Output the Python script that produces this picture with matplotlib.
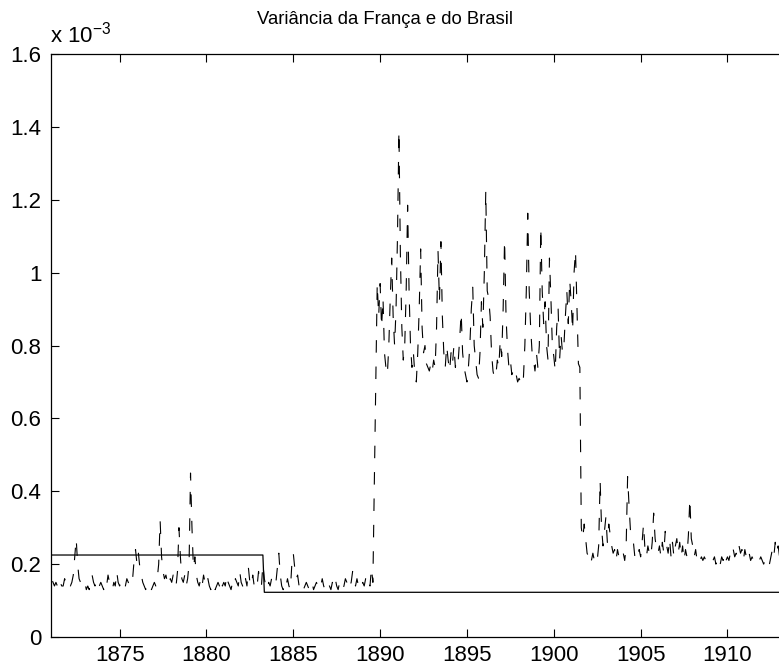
import numpy as np
import matplotlib
matplotlib.use("Agg")
import matplotlib.pyplot as plt

plt.rcParams['font.family'] = ['Liberation Sans', 'DejaVu Sans']
plt.rcParams['mathtext.fontset'] = 'custom'
plt.rcParams['mathtext.rm'] = 'Liberation Sans'
plt.rcParams['lines.scale_dashes'] = False

# monthly variance (x 10^-3), starting January 1871
var_1871_1889 = [
    0.37, 0.16, 0.15, 0.14, 0.15, 0.14, 0.13, 0.15, 0.14, 0.14, 0.16, 0.15,
    0.14, 0.15, 0.14, 0.15, 0.17, 0.22, 0.27, 0.20, 0.16, 0.15, 0.14, 0.14,
    0.15, 0.13, 0.14, 0.13, 0.16, 0.17, 0.15, 0.14, 0.16, 0.15, 0.14, 0.15,
    0.14, 0.13, 0.15, 0.14, 0.17, 0.15, 0.14, 0.13, 0.15, 0.14, 0.18, 0.15,
    0.14, 0.15, 0.14, 0.13, 0.14, 0.16, 0.15, 0.14, 0.14, 0.16, 0.21, 0.24,
    0.20, 0.23, 0.19, 0.17, 0.15, 0.14, 0.13, 0.14, 0.15, 0.14, 0.13, 0.14,
    0.15, 0.14, 0.16, 0.20, 0.32, 0.22, 0.18, 0.16, 0.17, 0.15, 0.14, 0.16,
    0.15, 0.17, 0.15, 0.14, 0.18, 0.30, 0.22, 0.16, 0.15, 0.17, 0.14, 0.16,
    0.20, 0.45, 0.30, 0.19, 0.22, 0.17, 0.15, 0.14, 0.16, 0.14, 0.17, 0.15,
    0.14, 0.16, 0.14, 0.13, 0.15, 0.14, 0.13, 0.14, 0.15, 0.14, 0.16, 0.14,
    0.15, 0.14, 0.17, 0.15, 0.14, 0.13, 0.15, 0.14, 0.16, 0.15, 0.14, 0.18,
    0.15, 0.14, 0.13, 0.16, 0.14, 0.19, 0.15, 0.14, 0.17, 0.14, 0.15, 0.14,
    0.18, 0.15, 0.14, 0.20, 0.16, 0.14, 0.13, 0.15, 0.14, 0.16, 0.15, 0.14,
    0.15, 0.19, 0.23, 0.17, 0.14, 0.13, 0.15, 0.14, 0.16, 0.14, 0.13, 0.20,
    0.23, 0.19, 0.16, 0.17, 0.14, 0.15, 0.14, 0.13, 0.14, 0.15, 0.14, 0.13,
    0.14, 0.15, 0.13, 0.14, 0.15, 0.14, 0.13, 0.14, 0.16, 0.14, 0.13, 0.14,
    0.15, 0.14, 0.13, 0.15, 0.14, 0.16, 0.14, 0.13, 0.15, 0.14, 0.13, 0.14,
    0.16, 0.15, 0.13, 0.14, 0.15, 0.18, 0.15, 0.14, 0.16, 0.14, 0.13, 0.14,
    0.15, 0.14, 0.16, 0.14, 0.15, 0.14, 0.19, 0.15, 0.43, 0.70, 0.97, 0.88,
]
var_1890_1901 = [
    0.97, 0.85, 0.93, 0.78, 0.74, 0.72, 0.80, 0.93, 1.04, 0.88, 0.80, 0.90,
    1.10, 1.39, 1.05, 0.85, 0.76, 0.80, 0.95, 1.185, 0.95, 0.80, 0.74, 0.78,
    0.72, 0.70, 0.78, 0.90, 1.065, 0.85, 0.78, 0.80, 0.75, 0.74, 0.73, 0.75,
    0.73, 0.76, 0.74, 0.85, 1.06, 0.92, 1.085, 0.88, 0.78, 0.74, 0.80, 0.76,
    0.73, 0.78, 0.75, 0.80, 0.74, 0.77, 0.76, 0.82, 0.89, 0.78, 0.74, 0.72,
    0.70, 0.74, 0.80, 0.90, 0.96, 0.80, 0.76, 0.72, 0.71, 0.78, 0.92, 0.85,
    1.00, 1.225, 0.95, 0.93, 0.88, 0.78, 0.73, 0.71, 0.72, 0.76, 0.74, 0.815,
    0.77, 0.90, 1.09, 0.88, 0.79, 0.74, 0.76, 0.72, 0.73, 0.71, 0.72, 0.70,
    0.71, 0.70, 0.72, 0.71, 0.80, 0.95, 1.163, 0.95, 0.85, 0.78, 0.76, 0.73,
    0.78, 0.74, 0.80, 1.125, 0.95, 0.86, 0.92, 0.80, 0.76, 1.04, 0.93, 0.80,
    0.77, 0.73, 0.85, 0.90, 0.76, 0.83, 0.78, 0.80, 0.88, 0.95, 0.86, 0.98,
    0.92, 0.84, 1.00, 1.06, 0.90, 0.75, 0.74, 0.30, 0.27, 0.31, 0.27, 0.23,
]
var_1902_1913 = [
    0.22, 0.23, 0.21, 0.23, 0.21, 0.22, 0.21, 0.25, 0.43, 0.30, 0.25, 0.29,
    0.33, 0.26, 0.31, 0.28, 0.25, 0.23, 0.24, 0.21, 0.24, 0.22, 0.21, 0.22,
    0.23, 0.21, 0.25, 0.44, 0.36, 0.29, 0.27, 0.26, 0.22, 0.23, 0.22, 0.24,
    0.22, 0.26, 0.31, 0.24, 0.22, 0.25, 0.23, 0.22, 0.26, 0.34, 0.27, 0.24,
    0.23, 0.25, 0.22, 0.26, 0.23, 0.29, 0.25, 0.23, 0.27, 0.22, 0.26, 0.22,
    0.25, 0.27, 0.23, 0.26, 0.22, 0.25, 0.21, 0.24, 0.22, 0.28, 0.38, 0.27,
    0.25, 0.22, 0.24, 0.21, 0.22, 0.21, 0.22, 0.21, 0.22, 0.21, 0.21, 0.21,
    0.21, 0.20, 0.21, 0.22, 0.20, 0.21, 0.22, 0.20, 0.22, 0.21, 0.23, 0.21,
    0.22, 0.21, 0.23, 0.22, 0.24, 0.22, 0.23, 0.22, 0.25, 0.23, 0.24, 0.21,
    0.24, 0.22, 0.21, 0.23, 0.21, 0.22, 0.21, 0.21, 0.22, 0.21, 0.21, 0.22,
    0.21, 0.20, 0.21, 0.20, 0.21, 0.20, 0.22, 0.24, 0.22, 0.26, 0.23, 0.25,
    0.22, 0.26, 0.24, 0.30, 0.31, 0.27, 0.24, 0.28, 0.25,
]

# constant variance level (x 10^-3), before and after the break
level_before = 0.225
level_after = 0.1227
break_year = 1883.3

start_year = 1871
xticks = [1875, 1880, 1885, 1890, 1895, 1900, 1905, 1910]
yticks = [0, 0.2, 0.4, 0.6, 0.8, 1.0, 1.2, 1.4, 1.6]
ytick_labels = ['0', '0.2', '0.4', '0.6', '0.8', '1', '1.2', '1.4', '1.6']

var_month = np.array(var_1871_1889 + var_1890_1901 + var_1902_1913) * 1e-3
t = start_year + np.arange(len(var_month)) / 12.0
level = np.where(t < break_year, level_before, level_after) * 1e-3

fig = plt.figure(figsize=(7.79, 6.72), dpi=100)
ax = fig.add_axes([51 / 779, 35 / 672, (790 - 51) / 779, (637 - 54) / 672])

ax.plot(t, var_month, color='black', lw=0.8, linestyle=(0, (9, 10)))
ax.plot(t, level, color='black', lw=0.9)

ax.set_xlim(1871.05, 1913.6)
ax.set_ylim(0, 1.6e-3)
ax.set_xticks(xticks)
ax.set_xticklabels([str(x) for x in xticks])
ax.set_yticks([v * 1e-3 for v in yticks])
ax.set_yticklabels(ytick_labels)
ax.tick_params(direction='in', length=6, width=0.8, labelsize=16,
               top=True, right=True)
ax.tick_params(axis='x', pad=6)
ax.tick_params(axis='y', pad=7)
for s in ax.spines.values():
    s.set_linewidth(0.9)

fig.text(385 / 779, 1 - 19 / 672, 'Variância da França e do Brasil',
         fontsize=13.3, ha='center', va='center')
fig.text(50 / 779, 1 - 43 / 672, r'x $10^{-3}$', fontsize=16, ha='left', va='baseline')

fig.savefig('out.png', dpi=100)
